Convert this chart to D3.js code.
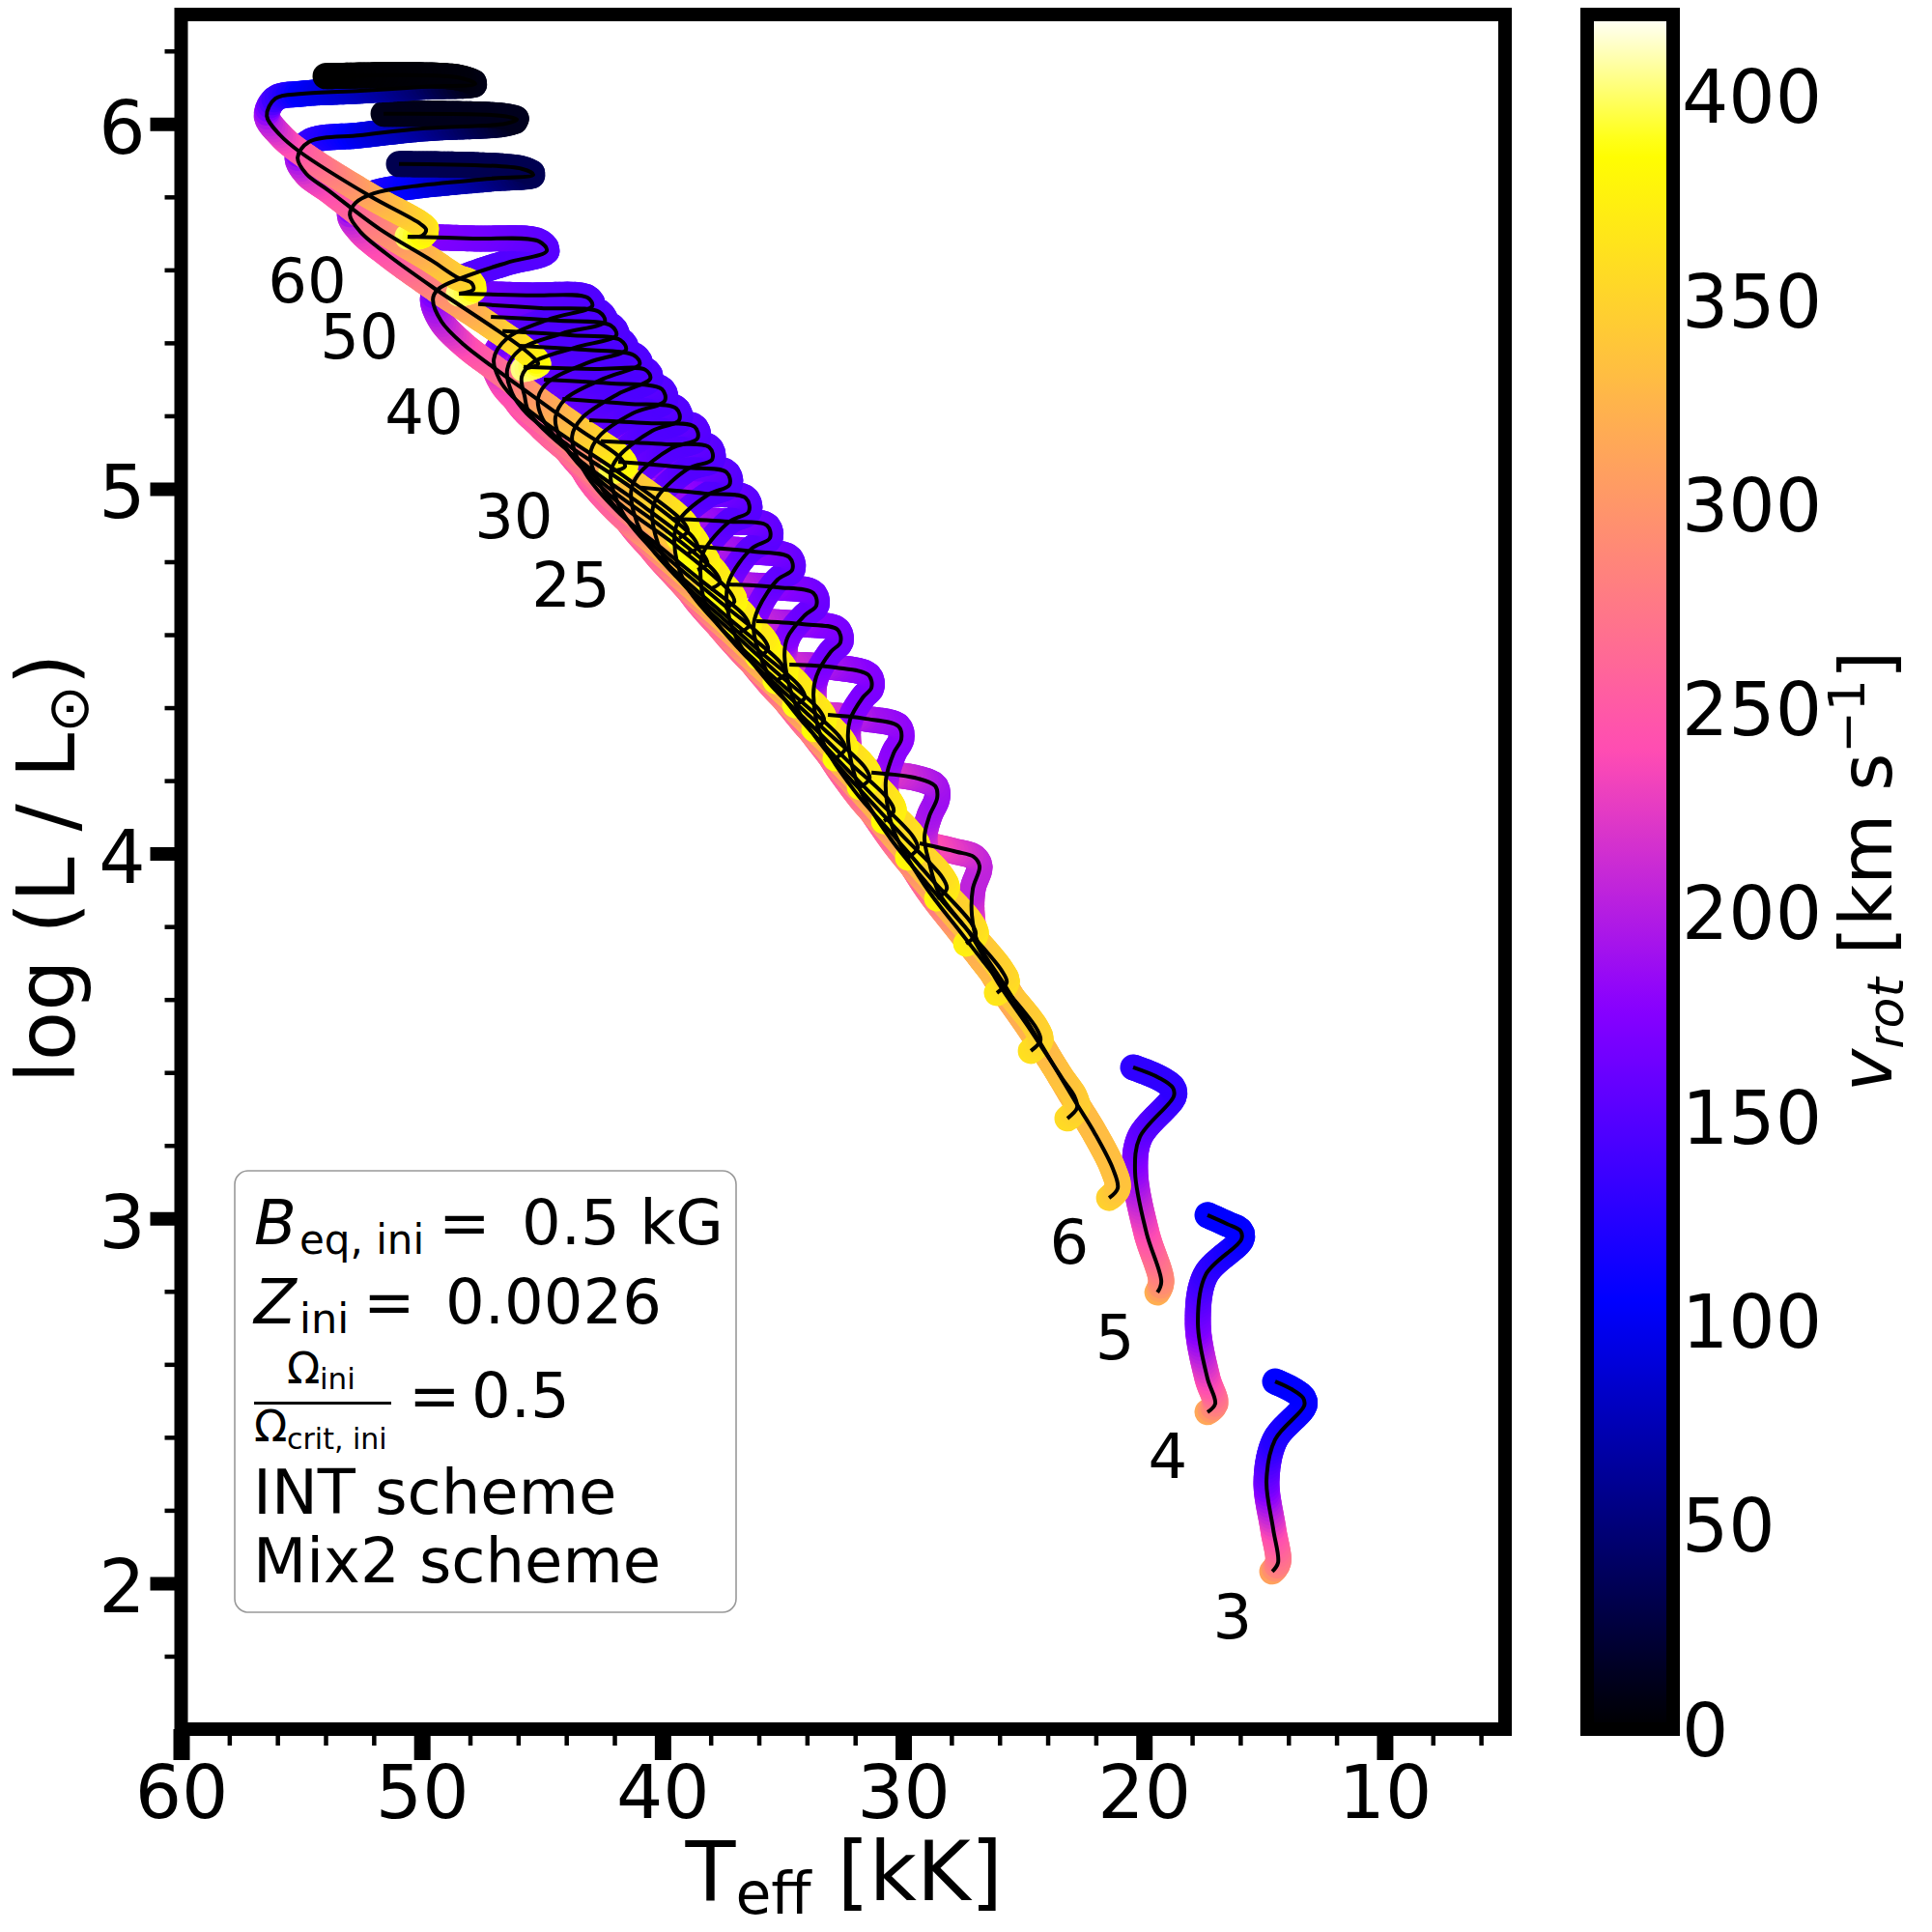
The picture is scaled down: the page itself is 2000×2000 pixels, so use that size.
<!DOCTYPE html>
<html>
<head>
<meta charset="utf-8">
<script src="https://cdn.jsdelivr.net/npm/d3@7"></script>
<style>
  body { margin: 0; background: #fff; }
  text { font-family: "DejaVu Sans", sans-serif; fill: #000; }
</style>
</head>
<body>
<svg id="chart" width="2000" height="2000"></svg>
<script>
// tracks run from the start hook to the end of the hook-back, teff in kK, vrot in km/s
const teff3 = [14.67,14.43,14.63,14.91,14.55,13.34,13.39,13.87,14.55];
const logL3 = [2.032,2.056,2.148,2.281,2.394,2.487,2.508,2.532,2.553];
const vrot3 = [315,280,240,165,125,108,108,106,105];
const teff4 = [17.36,17.04,17.36,17.76,17.44,15.95,15.99,16.55,17.36];
const logL4 = [2.469,2.492,2.561,2.712,2.845,2.943,2.966,2.985,3.009];
const vrot4 = [320,285,240,170,135,110,108,106,105];
const teff5 = [19.44,19.28,19.89,20.37,20.17,18.76,18.80,19.36,20.45];
const logL5 = [2.797,2.826,2.959,3.128,3.223,3.335,3.358,3.385,3.414];
const vrot5 = [325,295,245,185,160,133,130,130,130];
const teff6 = [21.45,21.09,21.29,22.05,22.86,24.30,25.78,26.91,27.15,27.11,26.83,27.07,27.79,29.32];
const logL6 = [3.056,3.083,3.136,3.234,3.321,3.480,3.639,3.758,3.832,3.904,3.965,3.991,4.005,4.028];
const vrot6 = [350,340,335,332,330,325,315,270,225,205,205,208,220,245];
const teff7 = [23.18,22.78,22.89,23.38,24.70,26.07,27.19,28.51,28.92,29.12,28.92,28.59,28.67,29.40,31.32];
const logL7 = [3.274,3.303,3.335,3.382,3.515,3.647,3.777,3.891,3.975,4.044,4.102,4.153,4.185,4.206,4.222];
const vrot7 = [358,350,345,338,325,310,285,260,235,215,195,188,190,200,230];
const teff8 = [24.70,24.30,24.46,26.03,27.59,29.12,30.40,30.68,30.72,30.40,30.08,30.20,31.60,33.13];
const logL8 = [3.459,3.488,3.520,3.650,3.782,3.914,4.063,4.142,4.203,4.275,4.314,4.349,4.370,4.380];
const vrot8 = [362,355,350,335,315,265,245,225,195,180,178,180,190,218];
const teff9 = [26.11,25.70,25.91,27.47,29.04,30.56,31.84,32.29,32.21,31.68,31.32,31.44,32.81,34.73];
const logL9 = [3.618,3.647,3.679,3.801,3.920,4.044,4.182,4.309,4.367,4.428,4.455,4.489,4.510,4.518];
const vrot9 = [368,360,352,335,315,265,245,215,185,172,170,172,185,212];
const teff10 = [27.39,26.99,27.19,28.83,30.44,32.05,33.37,33.73,33.61,33.01,32.61,32.73,34.21,36.10];
const logL10 = [3.753,3.779,3.811,3.930,4.052,4.174,4.312,4.433,4.486,4.553,4.579,4.614,4.629,4.637];
const vrot10 = [375,368,358,340,318,265,245,215,180,166,165,167,180,208];
const teff11 = [28.59,28.19,28.39,30.00,31.56,33.13,34.45,34.93,34.81,34.09,33.61,33.73,35.22,37.30];
const logL11 = [3.877,3.904,3.936,4.047,4.158,4.275,4.404,4.539,4.592,4.653,4.680,4.714,4.730,4.738];
const vrot11 = [380,372,362,342,320,265,245,215,178,162,160,162,176,205];
const teff12 = [29.80,29.40,29.60,31.20,32.77,34.33,35.66,36.22,36.02,35.22,34.61,34.73,36.22,38.55];
const logL12 = [3.989,4.015,4.047,4.155,4.261,4.373,4.497,4.619,4.672,4.751,4.778,4.812,4.828,4.841];
const vrot12 = [383,375,365,345,322,265,245,215,175,158,155,158,172,203];
const teff13 = [30.80,30.40,30.60,32.29,33.93,35.58,36.94,37.34,37.22,36.30,35.54,35.66,37.22,39.63];
const logL13 = [4.089,4.116,4.147,4.253,4.359,4.468,4.592,4.698,4.751,4.836,4.865,4.899,4.910,4.918];
const vrot13 = [385,378,368,348,325,265,245,215,172,155,152,155,170,200];
const teff14 = [31.80,31.40,31.60,33.33,35.06,36.74,38.19,38.43,38.31,37.22,36.42,36.54,38.23,40.91];
const logL14 = [4.182,4.206,4.237,4.343,4.449,4.555,4.680,4.778,4.825,4.910,4.937,4.974,4.987,5.003];
const vrot14 = [385,380,370,350,325,265,245,215,170,152,150,152,168,198];
const teff15 = [32.81,32.41,32.61,34.29,36.02,37.70,39.11,39.51,39.35,38.10,37.22,37.34,39.03,41.84];
const logL15 = [4.261,4.288,4.317,4.420,4.521,4.627,4.746,4.857,4.910,4.984,5.011,5.045,5.058,5.074];
const vrot15 = [388,380,370,350,325,265,245,215,168,150,148,150,165,195];
const teff16 = [33.69,33.29,33.49,35.22,36.90,38.59,39.99,40.43,40.23,38.91,37.94,38.06,39.83,42.56];
const logL16 = [4.341,4.365,4.394,4.494,4.595,4.698,4.817,4.931,4.976,5.056,5.080,5.114,5.122,5.130];
const vrot16 = [388,380,370,350,325,265,245,215,165,150,148,150,163,192];
const teff17 = [34.49,34.09,34.29,36.02,37.74,39.43,40.87,41.31,41.03,39.63,38.55,38.67,40.63,43.04];
const logL17 = [4.407,4.428,4.457,4.558,4.659,4.759,4.878,4.990,5.037,5.111,5.138,5.170,5.180,5.188];
const vrot17 = [390,382,372,352,328,265,245,215,165,150,148,150,162,190];
const teff18 = [35.30,34.89,35.10,36.82,38.55,40.23,41.68,42.16,41.84,40.43,39.31,39.43,41.44,44.16];
const logL18 = [4.473,4.494,4.523,4.621,4.719,4.820,4.937,5.042,5.087,5.159,5.188,5.220,5.233,5.246];
const vrot18 = [390,382,372,352,328,265,245,215,162,148,146,148,160,187];
const teff19 = [36.02,35.62,35.82,37.58,39.31,41.03,42.48,43.00,42.64,41.23,39.91,40.03,42.24,44.93];
const logL19 = [4.539,4.561,4.590,4.688,4.783,4.884,4.997,5.095,5.143,5.207,5.241,5.273,5.289,5.299];
const vrot19 = [390,382,372,352,328,265,245,215,162,148,146,148,158,185];
const teff20 = [36.82,36.42,36.62,38.35,40.07,41.76,43.20,43.76,43.36,41.84,40.51,40.71,42.84,45.77];
const logL20 = [4.606,4.624,4.653,4.746,4.839,4.931,5.042,5.143,5.193,5.260,5.302,5.326,5.328,5.334];
const vrot20 = [390,382,372,352,328,265,245,215,160,147,145,147,156,183];
const teff21 = [37.42,37.02,37.22,39.43,41.80,43.84,44.32,44.45,44.04,42.44,40.95,41.19,43.24,45.97];
const logL21 = [4.672,4.690,4.719,4.844,4.960,5.095,5.148,5.196,5.246,5.302,5.342,5.366,5.381,5.392];
const vrot21 = [390,382,372,335,275,245,235,212,160,147,145,147,155,180];
const teff22 = [38.02,37.62,37.82,40.07,42.44,44.53,45.05,45.17,44.73,43.04,41.52,41.76,43.84,46.65];
const logL22 = [4.725,4.743,4.772,4.897,5.013,5.148,5.201,5.249,5.294,5.347,5.381,5.408,5.421,5.432];
const vrot22 = [390,382,372,335,275,245,235,212,160,147,145,147,154,178];
const teff23 = [38.55,38.14,38.35,40.75,43.28,45.53,45.73,45.85,45.37,43.64,41.92,42.16,44.45,47.13];
const logL23 = [4.778,4.794,4.823,4.950,5.069,5.207,5.254,5.307,5.347,5.387,5.421,5.448,5.461,5.471];
const vrot23 = [390,382,372,335,275,245,235,212,160,147,145,147,153,175];
const teff24 = [38.95,38.55,38.75,41.23,43.92,45.65,46.25,46.45,45.93,44.16,42.40,42.64,45.05,47.66];
const logL24 = [4.823,4.839,4.868,5.000,5.119,5.207,5.262,5.328,5.381,5.426,5.458,5.485,5.495,5.506];
const vrot24 = [390,382,372,335,275,245,235,212,160,147,145,147,152,172];
const teff25 = [39.31,38.95,39.15,41.72,44.41,46.25,46.77,47.01,46.45,44.65,42.92,43.12,45.65,48.46];
const logL25 = [4.865,4.884,4.910,5.040,5.159,5.254,5.299,5.355,5.413,5.466,5.501,5.524,5.530,5.535];
const vrot25 = [392,384,374,335,275,245,235,212,160,147,145,147,152,170];
const teff30 = [42.12,41.56,41.76,43.44,45.85,47.05,48.26,49.18,49.54,49.34,48.26,46.45,44.81,45.13,47.86,50.59];
const logL30 = [5.048,5.061,5.085,5.162,5.276,5.334,5.395,5.458,5.519,5.546,5.580,5.620,5.652,5.678,5.686,5.691];
const vrot30 = [398,390,380,345,300,265,240,210,185,160,150,148,150,152,165,175];
const teff40 = [45.77,45.17,45.25,45.85,47.17,49.58,51.47,52.55,52.99,52.75,51.99,50.38,47.17,45.37,45.85,50.95];
const logL40 = [5.328,5.342,5.352,5.387,5.448,5.554,5.644,5.704,5.750,5.784,5.810,5.829,5.850,5.861,5.877,5.890];
const vrot40 = [405,395,385,370,340,290,250,230,205,150,125,105,60,35,33,33];
const teff50 = [48.46,47.86,47.94,48.54,49.58,51.75,53.88,54.80,55.16,54.68,52.55,49.86,46.53,46.05,46.65,51.59];
const logL50 = [5.535,5.546,5.564,5.580,5.625,5.712,5.818,5.863,5.908,5.951,5.969,5.988,6.001,6.012,6.022,6.028];
const vrot50 = [405,392,380,350,335,290,245,225,195,135,100,65,20,12,12,10];
const teff60 = [50.59,49.98,49.82,50.06,52.15,55.08,55.88,56.44,56.08,54.96,52.55,49.86,47.78,48.54,54.00];
const logL60 = [5.691,5.694,5.710,5.726,5.802,5.924,5.969,6.022,6.070,6.083,6.091,6.102,6.110,6.128,6.131];
const vrot60 = [400,388,378,360,320,255,230,200,140,105,80,45,10,5,0];

const tracks = [
  [teff3,logL3,vrot3],[teff4,logL4,vrot4],[teff5,logL5,vrot5],[teff6,logL6,vrot6],
  [teff7,logL7,vrot7],[teff8,logL8,vrot8],[teff9,logL9,vrot9],[teff10,logL10,vrot10],
  [teff11,logL11,vrot11],[teff12,logL12,vrot12],[teff13,logL13,vrot13],[teff14,logL14,vrot14],
  [teff15,logL15,vrot15],[teff16,logL16,vrot16],[teff17,logL17,vrot17],[teff18,logL18,vrot18],
  [teff19,logL19,vrot19],[teff20,logL20,vrot20],[teff21,logL21,vrot21],[teff22,logL22,vrot22],
  [teff23,logL23,vrot23],[teff24,logL24,vrot24],[teff25,logL25,vrot25],[teff30,logL30,vrot30],
  [teff40,logL40,vrot40],[teff50,logL50,vrot50],[teff60,logL60,vrot60]
];

// mass labels next to the tracks
const massLabels = ["60","50","40","30","25","6","5","4","3"];
const massTeff = [54.76,52.60,49.91,46.18,43.81,23.10,21.21,19.01,16.32];
const massLogL = [5.572,5.418,5.212,4.928,4.738,2.937,2.675,2.349,1.912];

const xTicks = [60,50,40,30,20,10];
const xMinor = [58,56,54,52,48,46,44,42,38,36,34,32,28,26,24,22,18,16,14,12,8,6];
const yTicks = [2,3,4,5,6];
const yMinor = [1.8,2.2,2.4,2.6,2.8,3.2,3.4,3.6,3.8,4.2,4.4,4.6,4.8,5.2,5.4,5.6,5.8,6.2];
const cbarTicks = [0,50,100,150,200,250,300,350,400];

const VMAX = 420;
const margin = { top: 15, right: 442, bottom: 210, left: 187.5 };
const width = 2000, height = 2000;
const innerW = width - margin.left - margin.right;
const innerH = height - margin.top - margin.bottom;
const SPINE = 14;

// matplotlib gnuplot2
function gnuplot2(v) {
  const t = Math.max(0, Math.min(1, v / VMAX));
  const r = t / 0.32 - 0.78125;
  const g = 2 * t - 0.84;
  const b = t < 0.25 ? 4 * t : t < 0.92 ? -2 * t + 1.84 : t / 0.08 - 11.5;
  const c = d => Math.round(255 * Math.max(0, Math.min(1, d)));
  return `rgb(${c(r)},${c(g)},${c(b)})`;
}

const svg = d3.select("#chart");
const g = svg.append("g").attr("transform", `translate(${margin.left},${margin.top})`);

const x = d3.scaleLinear().domain([60, 5]).range([0, innerW]);
const y = d3.scaleLinear().domain([1.6, 6.3]).range([innerH, 0]);

const colorLayer = g.append("g");
const lineLayer = g.append("g");

const line = d3.line().x(d => d[0]).y(d => d[1]).curve(d3.curveCatmullRom.alpha(0.5));

tracks.forEach(([teff, logL, vrot]) => {
  const pts = teff.map((t, i) => [x(t), y(logL[i])]);
  const path = lineLayer.append("path")
    .attr("d", line(pts))
    .attr("fill", "none")
    .attr("stroke", "#000")
    .attr("stroke-width", 4);

  // walk the spline, colour each little piece by vrot
  const node = path.node();
  const total = node.getTotalLength();
  const chord = [0];
  for (let i = 1; i < pts.length; i++) {
    chord.push(chord[i - 1] + Math.hypot(pts[i][0] - pts[i - 1][0], pts[i][1] - pts[i - 1][1]));
  }
  const vAt = d3.scaleLinear().domain(chord.map(c => c / chord[chord.length - 1] * total)).range(vrot);
  const tg = colorLayer.append("g").attr("fill", "none").attr("stroke-width", 27).attr("stroke-linecap", "round");
  const step = 4;
  let prev = node.getPointAtLength(0);
  for (let l = step; l <= total + step; l += step) {
    const cur = node.getPointAtLength(Math.min(l, total));
    tg.append("line")
      .attr("x1", prev.x).attr("y1", prev.y)
      .attr("x2", cur.x).attr("y2", cur.y)
      .attr("stroke", gnuplot2(vAt(l - step / 2)));
    prev = cur;
  }
});

// mass labels
g.selectAll("text.mass")
  .data(massLabels)
  .join("text")
  .attr("class", "mass")
  .attr("x", (d, i) => x(massTeff[i]))
  .attr("y", (d, i) => y(massLogL[i]))
  .attr("dy", "0.365em")
  .attr("text-anchor", "middle")
  .attr("font-size", 64)
  .text(d => d);

// axes
function styleAxis(sel, w) {
  sel.select(".domain").remove();
  sel.selectAll(".tick line").attr("stroke", "#000").attr("stroke-width", w);
}

g.append("g")
  .attr("transform", `translate(0,${innerH})`)
  .call(d3.axisBottom(x).tickValues(xMinor).tickSize(17).tickFormat(""))
  .call(styleAxis, 4.5)
  .call(sel => sel.selectAll("text").remove());
const xAxis = g.append("g")
  .attr("transform", `translate(0,${innerH})`)
  .call(d3.axisBottom(x).tickValues(xTicks).tickSize(32))
  .call(styleAxis, 17);
xAxis.selectAll("text")
  .attr("y", 92).attr("dy", null)
  .attr("font-size", 76).attr("font-family", "DejaVu Sans").attr("fill", "#000");

g.append("g")
  .call(d3.axisLeft(y).tickValues(yMinor).tickSize(17).tickFormat(""))
  .call(styleAxis, 4.5)
  .call(sel => sel.selectAll("text").remove());
const yAxis = g.append("g")
  .call(d3.axisLeft(y).tickValues(yTicks).tickSize(32).tickFormat(d3.format("d")))
  .call(styleAxis, 14);
yAxis.selectAll("text")
  .attr("x", -37).attr("dy", 30)
  .attr("font-size", 76).attr("font-family", "DejaVu Sans").attr("fill", "#000");

g.append("rect")
  .attr("width", innerW).attr("height", innerH)
  .attr("fill", "none").attr("stroke", "#000").attr("stroke-width", SPINE);

// axis titles
const xTitle = g.append("text")
  .attr("x", innerW / 2 + 1).attr("y", 1967 - margin.top)
  .attr("text-anchor", "middle").attr("font-size", 85);
xTitle.append("tspan").text("T");
xTitle.append("tspan").attr("dy", 14).attr("font-size", 60).text("eff");
xTitle.append("tspan").attr("dy", -14).text(" [kK]");

const yTitle = g.append("text")
  .attr("transform", `translate(${77 - margin.left},${899 - margin.top}) rotate(-90)`)
  .attr("text-anchor", "middle").attr("font-size", 84);
yTitle.append("tspan").text("log (L / L");
yTitle.append("tspan").attr("dy", 14).attr("font-size", 59).text("\u2299");
yTitle.append("tspan").attr("dy", -14).text(")");

// colorbar
const cbX = 1643, cbW = 89;
const cScale = d3.scaleLinear().domain([0, VMAX]).range([margin.top + innerH, margin.top]);
const grad = svg.append("defs").append("linearGradient")
  .attr("id", "cbar").attr("x1", 0).attr("x2", 0).attr("y1", 1).attr("y2", 0);
d3.range(0, 1.0001, 1 / 84).forEach(t => {
  grad.append("stop").attr("offset", t).attr("stop-color", gnuplot2(t * VMAX));
});
const cb = svg.append("g");
cb.append("rect")
  .attr("x", cbX).attr("y", margin.top).attr("width", cbW).attr("height", innerH)
  .attr("fill", "url(#cbar)").attr("stroke", "#000").attr("stroke-width", SPINE);
cb.selectAll("text.cb")
  .data(cbarTicks)
  .join("text")
  .attr("class", "cb")
  .attr("x", 1741)
  .attr("y", d => cScale(d) + 27.7)
  .attr("font-size", 76)
  .text(d => d);

const cbTitle = svg.append("text")
  .attr("transform", "translate(1958,902) rotate(-90)")
  .attr("text-anchor", "middle").attr("font-size", 75);
cbTitle.append("tspan").attr("font-style", "italic").text("v");
cbTitle.append("tspan").attr("font-style", "italic").attr("dy", 12).attr("font-size", 52).text("rot");
cbTitle.append("tspan").attr("dy", -12).text(" [km s");
cbTitle.append("tspan").attr("dy", -28).attr("font-size", 52).text("\u22121");
cbTitle.append("tspan").attr("dy", 28).text("]");

// parameter box
const box = svg.append("g");
box.append("rect")
  .attr("x", 243).attr("y", 1212).attr("width", 519).attr("height", 457).attr("rx", 14)
  .attr("fill", "#fff").attr("stroke", "#999").attr("stroke-width", 1.6);

function boxText(px, py, size, str, italic) {
  return box.append("text").attr("x", px).attr("y", py).attr("font-size", size)
    .attr("font-style", italic ? "italic" : null).text(str);
}
boxText(263, 1288, 64, "B", true);
boxText(310, 1298, 42, "eq, ini");
boxText(454, 1288, 64, "=");
boxText(540, 1288, 64, "0.5 kG");
boxText(263, 1370, 64, "Z", true);
boxText(310, 1380, 43, "ini");
boxText(376, 1370, 64, "=");
boxText(461, 1370, 64, "0.0026");
boxText(297, 1432, 45, "\u03a9");
boxText(331, 1438, 31, "ini");
box.append("rect").attr("x", 263).attr("y", 1451).attr("width", 142).attr("height", 3).attr("fill", "#000");
boxText(263, 1492, 45, "\u03a9");
boxText(297, 1500, 30, "crit, ini");
boxText(423, 1467, 64, "=");
boxText(488, 1467, 64, "0.5");
boxText(262, 1567, 64, "INT scheme");
boxText(262, 1638, 64, "Mix2 scheme");
</script>
</body>
</html>
